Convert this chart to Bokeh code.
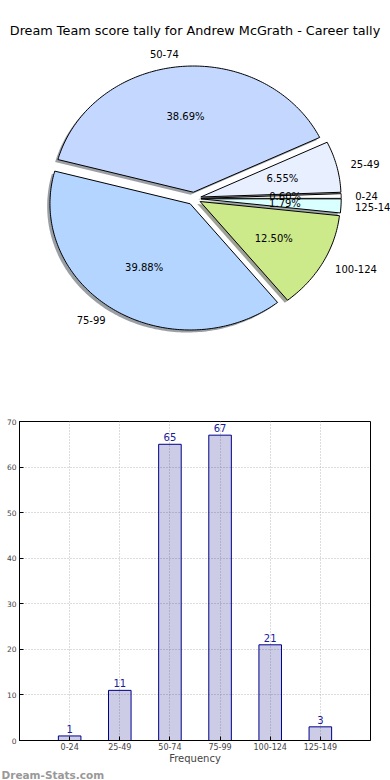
import numpy as np
from bokeh.plotting import figure
from bokeh.models import Range1d, Label, FixedTicker, ColumnDataSource, Title
from bokeh.layouts import column
from bokeh.core.properties import value
from bokeh.embed import file_html
from bokeh.resources import INLINE

# ---------------- data ----------------
chart_title = "Dream Team score tally for Andrew McGrath - Career tally"
categories = ["0-24", "25-49", "50-74", "75-99", "100-124", "125-149"]
counts = [1, 11, 65, 67, 21, 3]
pie_colors = ["#ffffff", "#e8efff", "#c4d8ff", "#b3d5ff", "#cdea8b", "#d9ffff"]
y_ticks = [0, 10, 20, 30, 40, 50, 60, 70]
x_label = "Frequency"
watermark = "Dream-Stats.com"

FONT = "DejaVu Sans"
W = 390
PIE_H = 398
BAR_H = 382

# ---------------- pie ----------------
cx_px, cy_px = 193.5, 198.0      # pie centre in figure pixels
rx_px, ry_px = 140.2, 126.2      # pixels per radius unit (elliptical like the original)
explode = 0.05

def pie_pt(fx, fy):
    return (fx - cx_px) / rx_px, (cy_px - fy) / ry_px

pie = figure(width=W, height=PIE_H, output_backend="svg", toolbar_location=None,
             x_range=Range1d(-cx_px / rx_px, (W - cx_px) / rx_px),
             y_range=Range1d(-(PIE_H - cy_px) / ry_px, cy_px / ry_px),
             min_border=0, min_border_left=0, min_border_right=0, min_border_top=0,
             min_border_bottom=0, x_axis_location=None, y_axis_location=None,
             outline_line_color=None, background_fill_color="white", frame_align=False)
pie.xgrid.visible = False
pie.ygrid.visible = False

total = float(sum(counts))
fracs = np.array(counts, dtype=float) / total
edges = np.concatenate([[0.0], np.cumsum(fracs)]) * 2 * np.pi

def shade(hexcol):
    h = hexcol.lstrip("#")
    r, g, b = (int(h[i:i + 2], 16) for i in (0, 2, 4))
    return "#%02x%02x%02x" % (int(r * 0.3), int(g * 0.3), int(b * 0.3))

wx, wy, sx, sy, shadow_cols = [], [], [], [], []
lab_x, lab_y, lab_align, pct_x, pct_y, pct_txt = [], [], [], [], [], []
for i in range(len(counts)):
    t0, t1 = edges[i], edges[i + 1]
    tm = 0.5 * (t0 + t1)
    ox, oy = explode * np.cos(tm), explode * np.sin(tm)
    n = max(6, int(np.degrees(t1 - t0)) + 2)
    th = np.linspace(t0, t1, n)
    px = np.concatenate([[ox], ox + np.cos(th)])
    py = np.concatenate([[oy], oy + np.sin(th)])
    wx.append(list(px)); wy.append(list(py))
    sx.append(list(px - 0.02)); sy.append(list(py - 0.02))
    shadow_cols.append(shade(pie_colors[i]))
    lx = ox + 1.1 * np.cos(tm)
    lab_x.append(lx); lab_y.append(oy + 1.1 * np.sin(tm))
    lab_align.append("left" if lx > 0 else "right")
    pct_x.append(ox + 0.6 * np.cos(tm)); pct_y.append(oy + 0.6 * np.sin(tm))
    pct_txt.append("%.2f%%" % (100 * fracs[i]))

pie.patches(xs=sx, ys=sy, fill_color=shadow_cols, fill_alpha=0.5, line_color=None)
pie.patches(xs=wx, ys=wy, fill_color=pie_colors, line_color="black", line_width=1)

pie.text(x=lab_x, y=lab_y, text=categories, text_align=lab_align, text_baseline="middle",
         text_font=value(FONT), text_font_size="10px", text_color="black")
pie.text(x=pct_x, y=pct_y, text=pct_txt, text_align="center", text_baseline="middle",
         text_font=value(FONT), text_font_size="10px", text_color="black")

tx, ty = pie_pt(194.5, 30)
pie.add_layout(Label(x=tx, y=ty, text=chart_title, text_align="center", text_baseline="middle",
                     text_font=FONT, text_font_size="12.8px", text_color="black"))

# ---------------- bar ----------------
fl, fr, ft, fb = 19, 370, 23, 342    # frame edges in figure pixels
bar = figure(width=W, height=BAR_H, output_backend="svg", toolbar_location=None,
             x_range=Range1d(-1, len(categories)), y_range=Range1d(y_ticks[0], y_ticks[-1]),
             min_border_left=fl, min_border_right=W - fr, min_border_top=ft,
             min_border_bottom=BAR_H - fb, outline_line_color="black", outline_line_width=1,
             background_fill_color="white", frame_align=False)

xpos = list(range(len(categories)))
src = ColumnDataSource(dict(x=xpos, top=counts, lab=[str(c) for c in counts]))
bar.vbar(x="x", top="top", width=0.45, source=src, fill_color="#000080", fill_alpha=0.2,
         line_color="#00008b", line_width=1)
bar.text(x="x", y="top", text="lab", source=src, text_align="center", text_baseline="bottom",
         y_offset=-3, text_font=value(FONT), text_font_size="10px", text_color="#1a1a9a")

bar.xaxis.ticker = FixedTicker(ticks=xpos)
bar.xaxis.major_label_overrides = {i: c for i, c in enumerate(categories)}
bar.yaxis.ticker = FixedTicker(ticks=y_ticks)
for ax in (bar.xaxis, bar.yaxis):
    ax.major_tick_in = 4
    ax.major_tick_out = 0
    ax.minor_tick_line_color = None
    ax.axis_line_color = "black"
    ax.major_label_text_font = FONT
bar.xaxis.major_label_text_font_size = "8px"
bar.yaxis.major_label_text_font_size = "7.5px"
bar.xaxis.major_label_standoff = 2
bar.yaxis.major_label_standoff = 3
bar.xaxis.axis_label = x_label
bar.xaxis.axis_label_text_font = FONT
bar.xaxis.axis_label_text_font_size = "10px"
bar.xaxis.axis_label_text_font_style = "normal"
bar.xaxis.axis_label_standoff = 0

bar.xgrid.ticker = FixedTicker(ticks=xpos)
bar.ygrid.ticker = FixedTicker(ticks=y_ticks)
for g in (bar.xgrid, bar.ygrid):
    g.grid_line_color = "#b8b8b8"
    g.grid_line_dash = "1 2"
    g.grid_line_width = 1

bar.add_layout(Title(text=watermark, align="left", offset=1 - fl, standoff=0,
                     text_font=FONT, text_font_size="10.5px", text_font_style="bold",
                     text_color="#999999"), "below")

layout = column(pie, bar, spacing=0)
open("out.html", "w").write(file_html(layout, INLINE))
